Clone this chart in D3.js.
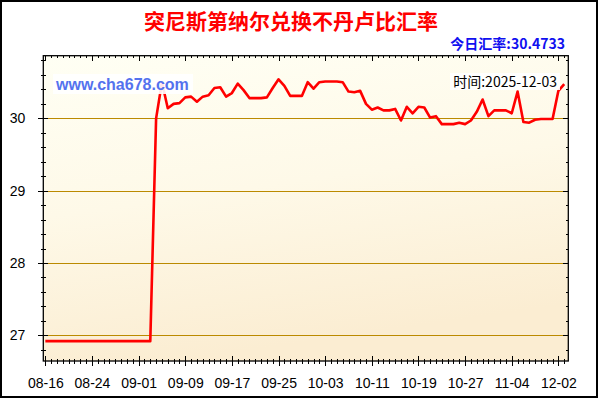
<!DOCTYPE html>
<html>
<head>
<meta charset="utf-8">
<script src="https://cdn.jsdelivr.net/npm/d3@7"></script>
<style>
  html, body { margin: 0; padding: 0; background: #fff; }
  svg { display: block; }
</style>
</head>
<body>
<div id="chart"></div>
<script>
// ---- data ----
const title = "突尼斯第纳尔兑换不丹卢比汇率";
const todayLabel = "今日汇率:30.4733";
const timeLabel = "时间:2025-12-03";
const watermark = "www.cha678.com";

const dates = [
  "08-16","08-17","08-18","08-19","08-20","08-21","08-22","08-23","08-24","08-25",
  "08-26","08-27","08-28","08-29","08-30","08-31","09-01","09-02","09-03","09-04",
  "09-05","09-06","09-07","09-08","09-09","09-10","09-11","09-12","09-13","09-14",
  "09-15","09-16","09-17","09-18","09-19","09-20","09-21","09-22","09-23","09-24",
  "09-25","09-26","09-27","09-28","09-29","09-30","10-01","10-02","10-03","10-04",
  "10-05","10-06","10-07","10-08","10-09","10-10","10-11","10-12","10-13","10-14",
  "10-15","10-16","10-17","10-18","10-19","10-20","10-21","10-22","10-23","10-24",
  "10-25","10-26","10-27","10-28","10-29","10-30","10-31","11-01","11-02","11-03",
  "11-04","11-05","11-06","11-07","11-08","11-09","11-10","11-11","12-02","12-03"
];

const rates = [
  26.92,26.92,26.92,26.92,26.92,26.92,26.92,26.92,26.92,26.92,
  26.92,26.92,26.92,26.92,26.92,26.92,26.92,26.92,26.92,30.00,
  30.50,30.14,30.20,30.21,30.29,30.30,30.23,30.30,30.32,30.42,
  30.43,30.30,30.35,30.48,30.39,30.28,30.28,30.28,30.29,30.42,
  30.54,30.45,30.31,30.31,30.31,30.50,30.41,30.50,30.51,30.51,
  30.51,30.50,30.37,30.36,30.38,30.20,30.12,30.15,30.11,30.11,
  30.13,29.97,30.16,30.07,30.16,30.15,30.01,30.03,29.92,29.92,
  29.92,29.94,29.92,29.97,30.09,30.26,30.03,30.11,30.11,30.11,
  30.07,30.37,29.95,29.94,29.98,29.99,29.99,29.99,30.38,30.4733
];

const xTickLabels = ["08-16","08-24","09-01","09-09","09-17","09-25","10-03","10-11","10-19","10-27","11-04","12-02"];
const yTickValues = [27, 28, 29, 30];

// ---- layout ----
const W = 600, H = 400;
const plot = { left: 43.3, right: 568.3, top: 55.7, bottom: 361 };

const svg = d3.select("#chart").append("svg")
  .attr("width", W).attr("height", H);

// outer pane border
svg.append("rect")
  .attr("x", 1).attr("y", 1).attr("width", 596).attr("height", 396)
  .attr("fill", "#fff").attr("stroke", "#000").attr("stroke-width", 2);

// gradient for plot area
const defs = svg.append("defs");
const grad = defs.append("linearGradient").attr("id", "bg")
  .attr("x1", "0").attr("y1", "0").attr("x2", "0.25").attr("y2", "1");
grad.append("stop").attr("offset", "0").attr("stop-color", "#FFFFF4");
grad.append("stop").attr("offset", "0.5").attr("stop-color", "#FEF9E8");
grad.append("stop").attr("offset", "1").attr("stop-color", "#FBEDD2");

const x = d3.scaleLinear().domain([-0.35, 89.7]).range([plot.left, plot.right]);
const y = d3.scaleLinear().domain([26.645, 30.866]).range([plot.bottom, plot.top]);

svg.append("rect")
  .attr("x", plot.left).attr("y", plot.top)
  .attr("width", plot.right - plot.left).attr("height", plot.bottom - plot.top)
  .attr("fill", "url(#bg)");

// grid lines
svg.append("g").selectAll("line").data(yTickValues).join("line")
  .attr("x1", plot.left).attr("x2", plot.right)
  .attr("y1", d => Math.round(y(d)) + 0.5).attr("y2", d => Math.round(y(d)) + 0.5)
  .attr("stroke", "#BB8A00").attr("stroke-width", 1);

// tick values
const majorIdx = xTickLabels.map(l => dates.indexOf(l));
const minorIdx = d3.range(0, dates.length).filter(i => !majorIdx.includes(i));
const yMinor = d3.range(26.8, 30.81, 0.2).map(v => +v.toFixed(1)).filter(v => !yTickValues.includes(v));

function styleAxis(g) {
  g.select(".domain").remove();
  g.selectAll("line").attr("stroke", "#000").attr("shape-rendering", "crispEdges");
}

// bottom axis: major (crossing) + minor (crossing)
const bottomMajor = d3.axisBottom(x).tickValues(majorIdx)
  .tickFormat(i => dates[i]).tickSizeInner(5).tickSizeOuter(0).tickPadding(12);
const gB = svg.append("g").attr("transform", `translate(0,${plot.bottom})`).call(bottomMajor);
styleAxis(gB);
gB.selectAll(".tick line").attr("y1", -5).attr("y2", 5);
gB.selectAll("text").attr("font-family", "'Liberation Sans', Arial, sans-serif")
  .attr("font-size", 14).attr("fill", "#000").attr("dy", "0.71em");

const gBm = svg.append("g").attr("transform", `translate(0,${plot.bottom})`)
  .call(d3.axisBottom(x).tickValues(minorIdx).tickFormat("").tickSizeOuter(0));
styleAxis(gBm);
gBm.selectAll(".tick line").attr("y1", -2.5).attr("y2", 2.5);

// top axis (inside only)
const gT = svg.append("g").attr("transform", `translate(0,${plot.top})`)
  .call(d3.axisTop(x).tickValues(majorIdx).tickFormat("").tickSizeOuter(0));
styleAxis(gT);
gT.selectAll(".tick line").attr("y1", 0).attr("y2", 5);
const gTm = svg.append("g").attr("transform", `translate(0,${plot.top})`)
  .call(d3.axisTop(x).tickValues(minorIdx).tickFormat("").tickSizeOuter(0));
styleAxis(gTm);
gTm.selectAll(".tick line").attr("y1", 0).attr("y2", 2.5);

// left axis
const gL = svg.append("g").attr("transform", `translate(${plot.left},0)`)
  .call(d3.axisLeft(y).tickValues(yTickValues).tickFormat(d3.format("d")).tickSizeOuter(0).tickPadding(12));
styleAxis(gL);
gL.selectAll(".tick line").attr("x1", -5).attr("x2", 5);
gL.selectAll("text").attr("font-family", "'Liberation Sans', Arial, sans-serif")
  .attr("font-size", 14).attr("fill", "#000");
const gLm = svg.append("g").attr("transform", `translate(${plot.left},0)`)
  .call(d3.axisLeft(y).tickValues(yMinor).tickFormat("").tickSizeOuter(0));
styleAxis(gLm);
gLm.selectAll(".tick line").attr("x1", -2.5).attr("x2", 2.5);

// right axis (inside only)
const gR = svg.append("g").attr("transform", `translate(${plot.right},0)`)
  .call(d3.axisRight(y).tickValues(yTickValues).tickFormat("").tickSizeOuter(0));
styleAxis(gR);
gR.selectAll(".tick line").attr("x1", -5).attr("x2", 0);
const gRm = svg.append("g").attr("transform", `translate(${plot.right},0)`)
  .call(d3.axisRight(y).tickValues(yMinor).tickFormat("").tickSizeOuter(0));
styleAxis(gRm);
gRm.selectAll(".tick line").attr("x1", -2.5).attr("x2", 0);

// data line
const line = d3.line().x((d, i) => x(i)).y(d => y(d));
svg.append("path").datum(rates)
  .attr("d", line)
  .attr("fill", "none").attr("stroke", "#FF0000").attr("stroke-width", 2.6)
  .attr("stroke-linejoin", "round");

// plot border
svg.append("rect")
  .attr("x", plot.left).attr("y", plot.top)
  .attr("width", plot.right - plot.left).attr("height", plot.bottom - plot.top)
  .attr("fill", "none").attr("stroke", "#000").attr("stroke-width", 1.3);

// watermark with background box
const wm = svg.append("g");
wm.append("rect").attr("x", 53).attr("y", 74).attr("width", 140).attr("height", 20)
  .attr("fill", "#FFFFFF").attr("opacity", 0.9);
wm.append("text").attr("x", 56).attr("y", 90)
  .attr("font-family", "'Liberation Sans', Arial, sans-serif").attr("font-weight", "bold")
  .attr("font-size", 16).attr("fill", "#5472EE").text(watermark);

// time label with background box
const tl = svg.append("g");
tl.append("rect").attr("x", 450).attr("y", 73).attr("width", 110).attr("height", 17)
  .attr("fill", "#FFFFFF").attr("opacity", 0.9);
tl.append("text").attr("x", 557).attr("y", 86.5).attr("text-anchor", "end")
  .attr("font-family", "'Noto Sans CJK SC', 'Liberation Sans', sans-serif")
  .attr("font-size", 14).attr("fill", "#000").text(timeLabel);

// title
svg.append("text").attr("x", 291).attr("y", 29).attr("text-anchor", "middle")
  .attr("font-family", "'Noto Sans CJK SC', sans-serif").attr("font-weight", "bold")
  .attr("font-size", 21).attr("fill", "#FF0000").text(title);

// today's rate
svg.append("text").attr("x", 565).attr("y", 49).attr("text-anchor", "end")
  .attr("font-family", "'Noto Sans CJK SC', 'Liberation Sans', sans-serif").attr("font-weight", "bold")
  .attr("font-size", 14).attr("fill", "#1010F0").text(todayLabel);
</script>
</body>
</html>
